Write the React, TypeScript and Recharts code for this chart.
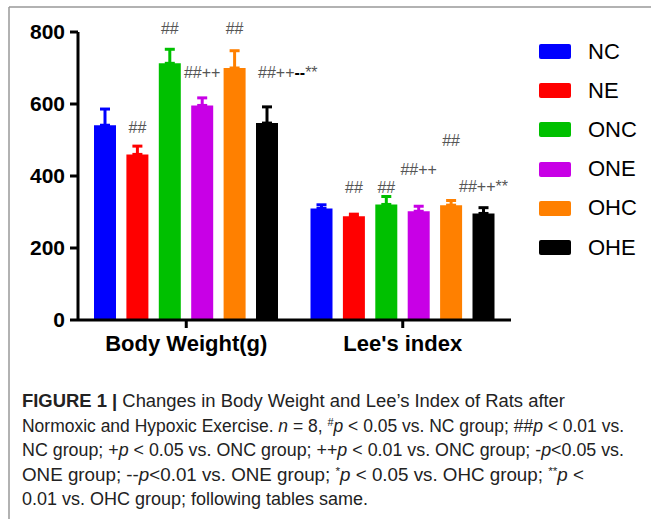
import React from 'react';
import { BarChart, Bar, XAxis, YAxis, ErrorBar, LabelList, Legend } from 'recharts';

const categories = ['Body Weight(g)', "Lee's index"];
const seriesNames = ['NC', 'NE', 'ONC', 'ONE', 'OHC', 'OHE'];
const seriesColors = ['#0000FF', '#FF0000', '#00C000', '#C800E6', '#FF8000', '#000000'];
const yTicks = [0, 200, 400, 600, 800];

// means per category (Body Weight, Lee's index)
const ncMeans = [541, 310];
const neMeans = [460, 288];
const oncMeans = [713, 321];
const oneMeans = [596, 302];
const ohcMeans = [700, 319];
const oheMeans = [547, 296];

// upper error (SD)
const ncErrors = [45, 10];
const neErrors = [23, 6];
const oncErrors = [39, 22];
const oneErrors = [21, 14];
const ohcErrors = [48, 13];
const oheErrors = [45, 16];

// significance annotations and the value level where they sit
const ncAnn = ['', ''];
const neAnn = ['##', '##'];
const oncAnn = ['##', '##'];
const oneAnn = ['##++', '##++'];
const ohcAnn = ['##', '##'];
const oheAnn = ['##++--**', '##++**'];
const ncAnnAt = [0, 0];
const neAnnAt = [536, 370];
const oncAnnAt = [811, 370];
const oneAnnAt = [689, 419];
const ohcAnnAt = [811, 500];
const oheAnnAt = [689, 372];
// text alignment of each annotation relative to its bar
const oheAnnAlign = ['start', 'middle'];

const allMeans = [ncMeans, neMeans, oncMeans, oneMeans, ohcMeans, oheMeans];
const allErrors = [ncErrors, neErrors, oncErrors, oneErrors, ohcErrors, oheErrors];
const allAnn = [ncAnn, neAnn, oncAnn, oneAnn, ohcAnn, oheAnn];
const allAnnAt = [ncAnnAt, neAnnAt, oncAnnAt, oneAnnAt, ohcAnnAt, oheAnnAt];

const rows = categories.map((c, i) => {
  const r: any = { category: c };
  seriesNames.forEach((n, s) => {
    r[n] = allMeans[s][i];
    r[n + '_err'] = [0, allErrors[s][i]];
  });
  return r;
});

const FONT = '"Liberation Sans", Arial, Helvetica, sans-serif';

const makeAnn = (s: number) => (props: any) => {
  const idx = props.index;
  const text = allAnn[s][idx];
  if (!text) return null;
  const vb = props.viewBox || {};
  const x = props.x ?? vb.x;
  const y = props.y ?? vb.y;
  const w = props.width ?? vb.width;
  const h = props.height ?? vb.height;
  const value = allMeans[s][idx];
  const base = y + h;
  const ly = base - (h * allAnnAt[s][idx]) / value;
  const align = s === 5 ? oheAnnAlign[idx] : 'middle';
  const tx = align === 'start' ? x + 2 : x + w / 2;
  const parts: { t: string; bold: boolean }[] = [];
  for (const ch of text) {
    const bold = ch === '-';
    const last = parts[parts.length - 1];
    if (last && last.bold === bold) last.t += ch;
    else parts.push({ t: ch, bold });
  }
  return (
    <text x={tx} y={ly} textAnchor={align} dominantBaseline="central" fontFamily={FONT} fontSize={16} fill="#555">
      {parts.map((p, k) => (
        <tspan key={k} fontWeight={p.bold ? 'bold' : 'normal'} fill={p.bold ? '#000' : '#555'}>{p.t}</tspan>
      ))}
    </text>
  );
};

const renderLegend = (props: any) => {
  const payload = [...(props.payload || [])].sort(
    (a: any, b: any) => seriesNames.indexOf(a.value) - seriesNames.indexOf(b.value)
  );
  return (
    <div style={{ display: 'flex', flexDirection: 'column' }}>
      {payload.map((p: any, i: number) => (
        <div key={i} style={{ height: 39.2, display: 'flex', alignItems: 'center' }}>
          <span style={{ width: 32, height: 15, background: p.color, display: 'inline-block', borderRadius: 2 }} />
          <span style={{ marginLeft: 17, fontSize: 22, fontFamily: FONT, color: '#000', lineHeight: '22px' }}>{p.value}</span>
        </div>
      ))}
    </div>
  );
};

const capFont = '"Liberation Sans Narrow", "Arial Narrow", "Liberation Sans", Arial, sans-serif';

export default function App() {
  return (
    <div style={{ position: 'absolute', left: 0, top: 0, width: 651, height: 519, background: '#fff', fontFamily: FONT }}>
      <BarChart
        width={651}
        height={360}
        data={rows}
        margin={{ top: 32, right: 140, bottom: 0, left: 8 }}
        barGap={10.4}
      >
        <XAxis
          dataKey="category"
          height={40}
          tickSize={8}
          tickMargin={7}
          axisLine={{ stroke: '#000', strokeWidth: 3 }}
          tickLine={{ stroke: '#000', strokeWidth: 3 }}
          tick={{ fontSize: 22, fontWeight: 'bold', fill: '#000', fontFamily: FONT }}
        />
        <YAxis
          width={70}
          domain={[0, 800]}
          ticks={yTicks}
          tickSize={8}
          tickMargin={5}
          axisLine={{ stroke: '#000', strokeWidth: 3 }}
          tickLine={{ stroke: '#000', strokeWidth: 3 }}
          tick={{ fontSize: 21, fontWeight: 'bold', fill: '#000', fontFamily: FONT }}
        />
        <Legend
          layout="vertical"
          align="center"
          verticalAlign="middle"
          content={renderLegend}
          wrapperStyle={{ position: 'absolute', left: 539, top: 32, width: 110 }}
        />
        {seriesNames.map((n, s) => (
          <Bar key={n} dataKey={n} name={n} fill={seriesColors[s]} barSize={22} isAnimationActive={false}>
            <ErrorBar dataKey={n + '_err'} direction="y" width={5} strokeWidth={3} stroke={seriesColors[s]} />
            <LabelList dataKey={n} content={makeAnn(s)} />
          </Bar>
        ))}
      </BarChart>
      <svg width={651} height={519} style={{ position: 'absolute', left: 0, top: 0, pointerEvents: 'none' }}>
        <line x1={9} y1={7} x2={651} y2={7} stroke="#999" strokeWidth={1.5} />
        <line x1={9} y1={7} x2={9} y2={519} stroke="#999" strokeWidth={1.5} />
        <g fontFamily={capFont} fontSize={17.5} fill="#222">
          <text x={22} y={407} textLength={543} lengthAdjust="spacingAndGlyphs">
            <tspan fontWeight="bold">FIGURE 1 | </tspan>
            <tspan>Changes in Body Weight and Lee’s Index of Rats after</tspan>
          </text>
          <text x={22} y={431.5} textLength={602} lengthAdjust="spacingAndGlyphs">
            <tspan>Normoxic and Hypoxic Exercise. </tspan>
            <tspan fontStyle="italic">n</tspan>
            <tspan> = 8, </tspan>
            <tspan fontSize={11} baselineShift="super">#</tspan>
            <tspan fontStyle="italic">p</tspan>
            <tspan> &lt; 0.05 vs. NC group; ##</tspan>
            <tspan fontStyle="italic">p</tspan>
            <tspan> &lt; 0.01 vs.</tspan>
          </text>
          <text x={22} y={456} textLength={602} lengthAdjust="spacingAndGlyphs">
            <tspan>NC group; +</tspan>
            <tspan fontStyle="italic">p</tspan>
            <tspan> &lt; 0.05 vs. ONC group; ++</tspan>
            <tspan fontStyle="italic">p</tspan>
            <tspan> &lt; 0.01 vs. ONC group; -</tspan>
            <tspan fontStyle="italic">p</tspan>
            <tspan>&lt;0.05 vs.</tspan>
          </text>
          <text x={22} y={480.5} textLength={562} lengthAdjust="spacingAndGlyphs">
            <tspan>ONE group; --</tspan>
            <tspan fontStyle="italic">p</tspan>
            <tspan>&lt;0.01 vs. ONE group; </tspan>
            <tspan fontSize={11} baselineShift="super">*</tspan>
            <tspan fontStyle="italic">p</tspan>
            <tspan> &lt; 0.05 vs. OHC group; </tspan>
            <tspan fontSize={11} baselineShift="super">**</tspan>
            <tspan fontStyle="italic">p</tspan>
            <tspan> &lt;</tspan>
          </text>
          <text x={22} y={505} textLength={346} lengthAdjust="spacingAndGlyphs">
            0.01 vs. OHC group; following tables same.
          </text>
        </g>
      </svg>
    </div>
  );
}
